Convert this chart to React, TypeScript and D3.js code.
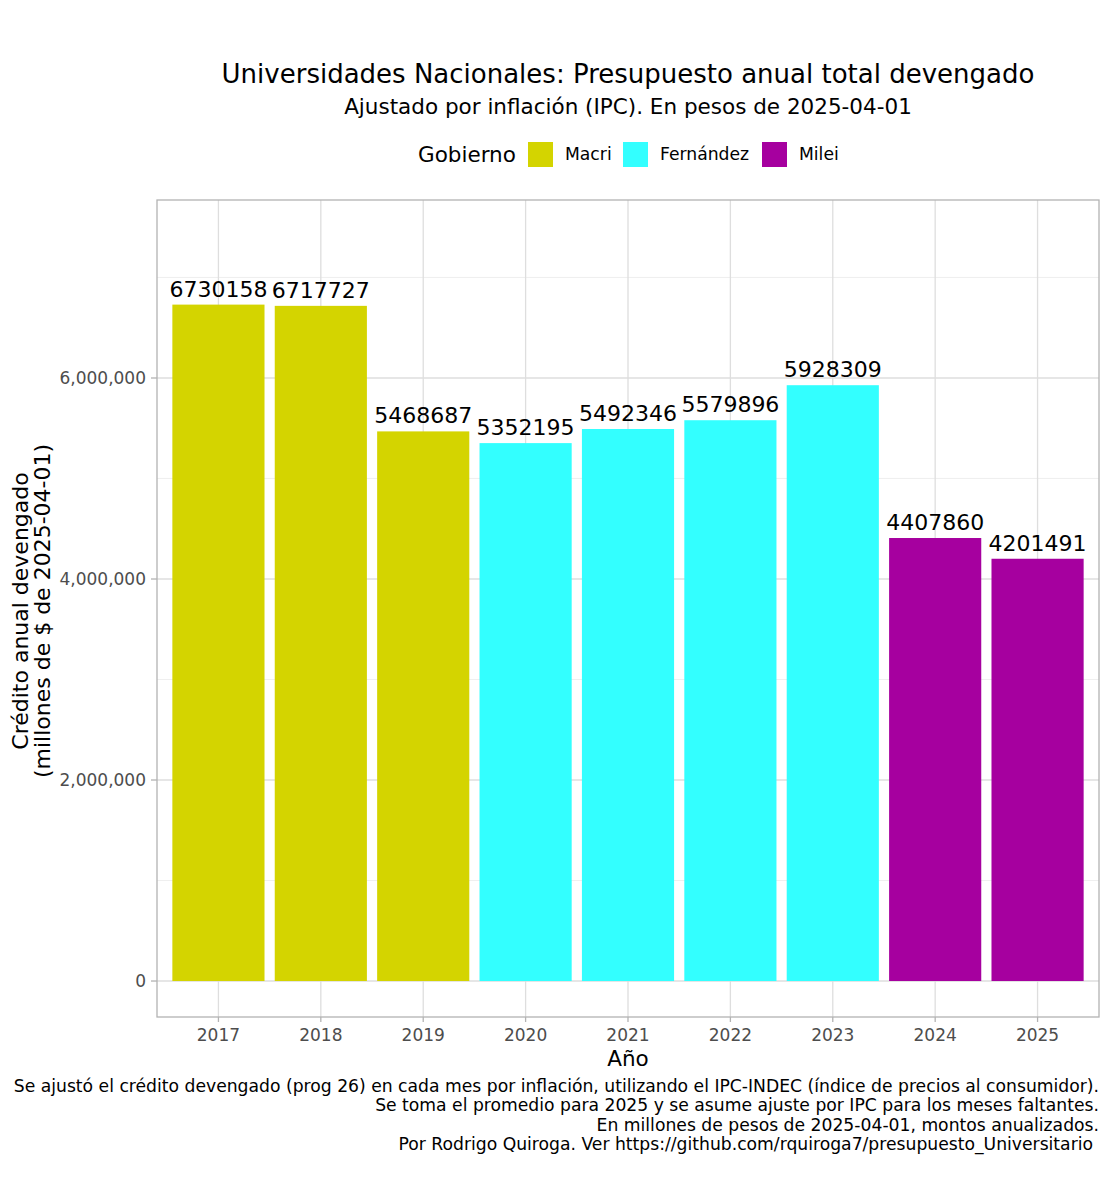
import React from "react";
import * as d3 from "d3";

const years = ["2017", "2018", "2019", "2020", "2021", "2022", "2023", "2024", "2025"];
const values = [6730158, 6717727, 5468687, 5352195, 5492346, 5579896, 5928309, 4407860, 4201491];
const governments = ["Macri", "Macri", "Macri", "Fernández", "Fernández", "Fernández", "Fernández", "Milei", "Milei"];
const legendNames = ["Macri", "Fernández", "Milei"];
const legendColors = ["#d4d400", "#33ffff", "#a6009f"];
const yTicks = [0, 2000000, 4000000, 6000000];
const yMinorTicks = [1000000, 3000000, 5000000, 7000000];
const captionLines = [
  "Se ajustó el crédito devengado (prog 26) en cada mes por inflación, utilizando el IPC-INDEC (índice de precios al consumidor).",
  "Se toma el promedio para 2025 y se asume ajuste por IPC para los meses faltantes.",
  "En millones de pesos de 2025-04-01, montos anualizados.",
  "Por Rodrigo Quiroga. Ver https://github.com/rquiroga7/presupuesto_Universitario",
];

const FONT = "'DejaVu Sans', sans-serif";

export default function App() {
  const W = 1110;
  const H = 1200;
  const panel = { left: 157, right: 1099, top: 200, bottom: 1017 };

  const x = d3
    .scaleBand<string>()
    .domain(years)
    .range([panel.left, panel.right])
    .paddingInner(0.1)
    .paddingOuter(0.15);
  const y = d3.scaleLinear().domain([-358000, 7771000]).range([panel.bottom, panel.top]);
  const color = d3.scaleOrdinal<string, string>().domain(legendNames).range(legendColors);
  const fmt = d3.format(",");
  const cx = (panel.left + panel.right) / 2;
  const center = (yr: string) => (x(yr) as number) + x.bandwidth() / 2;

  // legend layout
  const legendItems = [
    { name: "Macri", key: 528, text: 565 },
    { name: "Fernández", key: 623, text: 660 },
    { name: "Milei", key: 762, text: 799 },
  ];

  return (
    <svg width={W} height={H} style={{ display: "block", margin: "-8px", background: "#fff" }} fontFamily={FONT}>
      <rect width={W} height={H} fill="#fff" />
      {/* titles */}
      <text x={cx} y={83} textAnchor="middle" fontSize={26} fill="#000">
        Universidades Nacionales: Presupuesto anual total devengado
      </text>
      <text x={cx} y={114} textAnchor="middle" fontSize={21.5} fill="#000">
        Ajustado por inflación (IPC). En pesos de 2025-04-01
      </text>

      {/* legend */}
      <text x={418} y={162} fontSize={21.5} fill="#000">Gobierno</text>
      {legendItems.map((d) => (
        <g key={d.name}>
          <rect x={d.key} y={142} width={25} height={25} fill={color(d.name)} />
          <text x={d.text} y={160} fontSize={17.2} fill="#000">{d.name}</text>
        </g>
      ))}

      {/* grid */}
      {yMinorTicks.map((t) => (
        <line key={"m" + t} x1={panel.left} x2={panel.right} y1={y(t)} y2={y(t)} stroke="#ebebeb" strokeWidth={0.8} />
      ))}
      {yTicks.map((t) => (
        <line key={"M" + t} x1={panel.left} x2={panel.right} y1={y(t)} y2={y(t)} stroke="#dedede" strokeWidth={1.3} />
      ))}
      {years.map((yr) => (
        <line key={"v" + yr} x1={center(yr)} x2={center(yr)} y1={panel.top} y2={panel.bottom} stroke="#dedede" strokeWidth={1.3} />
      ))}

      {/* bars */}
      {years.map((yr, i) => (
        <rect
          key={"b" + yr}
          x={x(yr)}
          y={y(values[i])}
          width={x.bandwidth()}
          height={y(0) - y(values[i])}
          fill={color(governments[i])}
        />
      ))}
      {years.map((yr, i) => (
        <text key={"l" + yr} x={center(yr)} y={y(values[i]) - 8} textAnchor="middle" fontSize={22} fill="#000">
          {values[i]}
        </text>
      ))}

      {/* panel border */}
      <rect
        x={panel.left}
        y={panel.top}
        width={panel.right - panel.left}
        height={panel.bottom - panel.top}
        fill="none"
        stroke="#b3b3b3"
        strokeWidth={1.3}
      />

      {/* y axis */}
      {yTicks.map((t) => (
        <g key={"yt" + t}>
          <line x1={151} x2={panel.left} y1={y(t)} y2={y(t)} stroke="#b3b3b3" strokeWidth={1.3} />
          <text x={146} y={y(t) + 6.2} textAnchor="end" fontSize={17} fill="#4d4d4d">
            {fmt(t)}
          </text>
        </g>
      ))}
      <text transform={`translate(28,611) rotate(-90)`} textAnchor="middle" fontSize={22} fill="#000">
        <tspan x={0} dy={0}>Crédito anual devengado</tspan>
        <tspan x={0} dy={22}>(millones de $ de 2025-04-01)</tspan>
      </text>

      {/* x axis */}
      {years.map((yr) => (
        <g key={"xt" + yr}>
          <line x1={center(yr)} x2={center(yr)} y1={panel.bottom} y2={panel.bottom + 5} stroke="#b3b3b3" strokeWidth={1.3} />
          <text x={center(yr)} y={1041} textAnchor="middle" fontSize={17} fill="#4d4d4d">
            {yr}
          </text>
        </g>
      ))}
      <text x={cx} y={1066} textAnchor="middle" fontSize={21.5} fill="#000">Año</text>

      {/* caption */}
      {captionLines.map((line, i) => (
        <text key={"c" + i} x={i === 3 ? 1093 : 1099} y={1092 + i * 19.3} textAnchor="end" fontSize={17.2} fill="#000">
          {line}
        </text>
      ))}
    </svg>
  );
}
